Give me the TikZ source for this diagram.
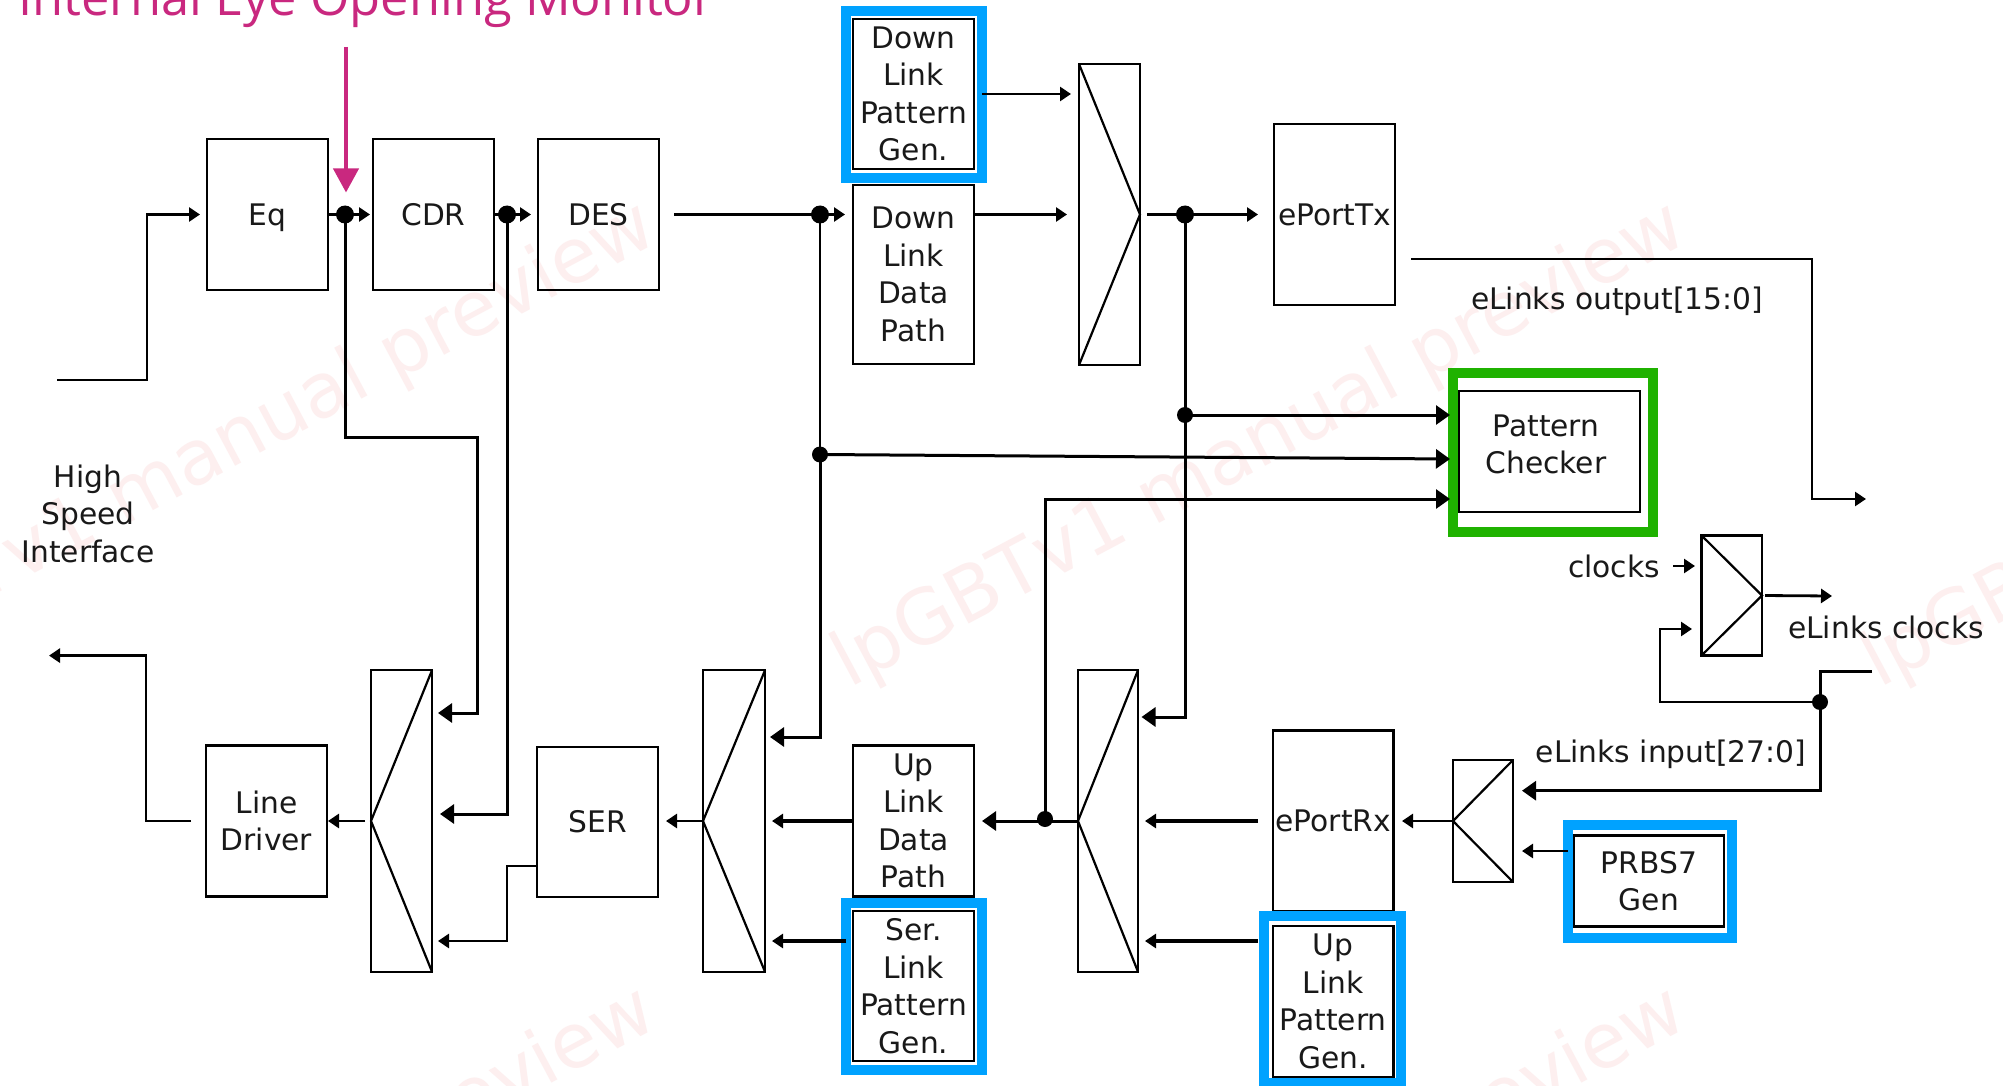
\documentclass[tikz,border=0pt]{standalone}
\usepackage{fontspec}
\setmainfont{DejaVu Sans}
\newfontfamily\titlefont{Open Sans}
\usetikzlibrary{arrows.meta}
\definecolor{wmpink}{HTML}{FDEFEF}
\definecolor{framesky}{HTML}{00A2FF}
\definecolor{framegreen}{HTML}{1FB200}
\definecolor{eyepink}{HTML}{C9287F}
\tikzset{
  x=1pt,y=-1pt,
  every node/.style={outer sep=0pt,inner sep=0pt},
  lbl/.style={font=\fontsize{29.7}{37.5}\selectfont,align=center,text=black!90},
  blockbox/.style={draw=black,line width=2.6pt,lbl},
  muxbox/.style={draw=black,line width=2.4pt},
  muxline/.style={draw=black,line width=2.2pt},
  frame/.style={draw=#1,line width=10pt},
  wire/.style={draw=black,line width=2.8pt},
  arr/.style={wire,-{Triangle[length=11pt,width=14pt]}},
  arrb/.style={wire,line width=3pt,-{Triangle[length=14pt,width=19pt]}},
  jdot/.style={circle,fill=black,minimum size=18pt},
  wmark/.style={font=\fontsize{76}{76}\selectfont,text=wmpink,rotate=28},
}
\begin{document}
\begin{tikzpicture}
\useasboundingbox (0,0) rectangle (2003,1086);
\fill[white] (0,0) rectangle (2003,1086);
\begin{scope}
\clip (0,0) rectangle (2003,1086);
\node[wmark] (wa) at (230,446) {lpGBTv1 manual preview};
\node[wmark] (wb) at (1260,446) {lpGBTv1 manual preview};
\node[wmark] (wc) at (2290,446) {lpGBTv1 manual preview};
\node[wmark] (wd) at (230,1231) {lpGBTv1 manual preview};
\node[wmark] (we) at (1260,1231) {lpGBTv1 manual preview};
\node[anchor=base west,text=eyepink,font=\titlefont\fontsize{50.6}{50.6}\selectfont] (title) at (18,15.5) {Internal Eye Opening Monitor};

% upper row
\node[blockbox,minimum width=121pt,minimum height=151pt] (eq) at (267.5,214.5) {\raisebox{0pt}[\height][0pt]{Eq}};
\node[blockbox,minimum width=121pt,minimum height=151pt] (cdr) at (433.5,214.5) {CDR};
\node[blockbox,minimum width=121pt,minimum height=151pt] (des) at (598.5,214.5) {DES};
\node[blockbox,minimum width=121pt,minimum height=150pt] (dpg) at (913.5,94) {Down\\Link\\Pattern\\Gen.};
\node[blockbox,minimum width=121pt,minimum height=179pt] (ddp) at (913.5,274.5) {Down\\Link\\Data\\Path};
\node[muxbox,minimum width=61pt,minimum height=301pt] (mux1) at (1109.5,214.5) {};
\node[blockbox,minimum width=121pt,minimum height=181pt] (eporttx) at (1334.5,214.5) {ePortTx};
\node[blockbox,minimum width=181pt,minimum height=121pt] (pc) at (1549.5,451.5) {};
\node[lbl] (pctext) at (1546,444.5) {Pattern\\Checker};
\node[muxbox,minimum width=60.5pt,minimum height=120pt] (clkmux) at (1731.75,595.5) {};

% lower row
\node[blockbox,minimum width=121pt,minimum height=150.5pt] (ld) at (266.5,821) {Line\\Driver};
\node[muxbox,minimum width=61pt,minimum height=301.5pt] (muxla) at (401.5,821) {};
\node[blockbox,minimum width=121pt,minimum height=150pt] (ser) at (597.5,822) {SER};
\node[muxbox,minimum width=62pt,minimum height=301.5pt] (muxlb) at (734,821) {};
\node[blockbox,minimum width=121pt,minimum height=150.5pt] (udp) at (913.5,821) {Up\\Link\\Data\\Path};
\node[blockbox,minimum width=121pt,minimum height=150pt] (spg) at (913.5,986) {Ser.\\Link\\Pattern\\Gen.};
\node[muxbox,minimum width=60pt,minimum height=301.5pt] (muxr) at (1108,821) {};
\node[blockbox,minimum width=120.5pt,minimum height=180.5pt] (eportrx) at (1333.25,821) {ePortRx};
\node[blockbox,minimum width=120.5pt,minimum height=151pt] (upg) at (1333.25,1001.5) {Up\\Link\\Pattern\\Gen.};
\node[muxbox,minimum width=60pt,minimum height=122pt] (smux) at (1483,821) {};
\node[blockbox,minimum width=150pt,minimum height=91pt] (prbs) at (1649,881) {PRBS7\\Gen};

% frames
\node[frame=framesky,minimum width=136pt,minimum height=167.5pt] (fa) at (914,94.75) {};
\node[frame=framesky,minimum width=136pt,minimum height=167.4pt] (fb) at (914,986.3) {};
\node[frame=framesky,minimum width=137pt,minimum height=167pt] (fc) at (1332.5,999.5) {};
\node[frame=framesky,minimum width=164.5pt,minimum height=113pt] (fd) at (1649.75,881.5) {};
\node[frame=framegreen,minimum width=200pt,minimum height=159pt] (fe) at (1553,452.5) {};

% labels
\node[lbl] (hsi) at (88,513.5) {High\\Speed\\Interface};
\node[lbl] (eout) at (1617,301) {eLinks output[15:0]};
\node[lbl] (clk) at (1614,566) {clocks};
\node[lbl] (eclk) at (1886,627) {eLinks clocks};
\node[lbl] (ein) at (1671,754) {eLinks input[27:0]};

% mux diagonals
\draw[muxline] (mux1.north west) -- (mux1.east) -- (mux1.south west);
\draw[muxline] (clkmux.north west) -- (clkmux.east) -- (clkmux.south west);
\draw[muxline] (muxla.north east) -- (muxla.west) -- (muxla.south east);
\draw[muxline] (muxlb.north east) -- (muxlb.west) -- (muxlb.south east);
\draw[muxline] (muxr.north east) -- (muxr.west) -- (muxr.south east);
\draw[muxline] (smux.north east) -- (smux.west) -- (smux.south east);

% junctions
\node[jdot] (ja) at (345,214.5) {};
\node[jdot] (jb) at (507,214.5) {};
\node[jdot] (jc) at (820,214.5) {};
\node[jdot] (jd) at (1185,214.5) {};
\node[jdot,minimum size=16pt] (je) at (1185,415) {};
\node[jdot,minimum size=16pt] (jf) at (820,454.5) {};
\node[jdot,minimum size=16pt] (jg) at (1045,819) {};
\node[jdot,minimum size=16pt] (jh) at (1820,702) {};

% coordinates
\coordinate (hsin) at (57,380);
\coordinate (hsbend) at (147,300);
\coordinate (lineout) at (49,655.6);
\coordinate (linebend) at (146,700);
\coordinate (eoutstart) at (1395,259);
\coordinate (eoutbend) at (1812,380);
\coordinate (eoutend) at (1866,499);
\coordinate (pca) at (1450,415);
\coordinate (pcb) at (1450,459);
\coordinate (pcc) at (1450,499);
\coordinate (mrtop) at (1141.5,717);
\coordinate (mlbtop) at (770,737);
\coordinate (jabend) at (477,437);
\coordinate (jatip) at (438,713);
\coordinate (jbtip) at (440,814);
\coordinate (serout) at (537,866);
\coordinate (serbend) at (507,900);
\coordinate (lowb) at (0,941);
\coordinate (eintop) at (1872,671);
\coordinate (eintip) at (1522,790.7);
\coordinate (prbstip) at (1522,851);
\coordinate (clkbend) at (1660,670);
\coordinate (clktip) at (1692,629);
\coordinate (clkintip) at (1695,566);
\coordinate (clkinstart) at (1673,566);
\coordinate (clkoutend) at (1832,596);

% connectors, top
\draw[arr] (hsin) -| (hsbend) |- ([xshift=-7pt]eq.west);
\draw[arr,shorten >=3pt] (eq.east) -- (cdr.west);
\draw[arr,shorten >=7pt] (cdr.east) -- (des.west);
\draw[arr,shorten <=15pt,shorten >=8pt] (des.east) -- (ddp.west |- des.east);
\draw[arr,shorten >=8pt] (fa.east |- dpg.east) -- (mux1.west |- dpg.east);
\draw[arr,shorten >=12pt] (ddp.east |- mux1.west) -- (mux1.west);
\draw[arr,shorten <=7pt,shorten >=16pt] (mux1.east) -- (eporttx.west);
\draw[arr,shorten <=16pt] (eoutstart) -| (eoutbend) |- (eoutend);
% tap to lower mux and to the checker
\draw[arrb] (jd.center) |- (mrtop);
\draw[arrb] (je.center) -- (pca);
\draw[arrb] (jf.center) -- (pcb);
\draw[arrb] (jg.center) |- (pcc);
\draw[wire] (jc.center) -- (jf.center);
\draw[arrb] (jf.center) |- (mlbtop);
\draw[arrb] (ja.center) |- (jabend) |- (jatip);
\draw[arrb] (jb.center) |- (jbtip);
\draw[arr] (serout) -| (serbend) |- (jatip |- lowb);

% connectors, bottom
\draw[arr,shorten >=8pt] (muxlb.west) -- (ser.east |- muxlb.west);
\draw[arr,shorten <=6pt,shorten >=1pt] (muxla.west) -- (ld.east);
\draw[arr,shorten <=15pt] (ld.west) -| (linebend) |- (lineout);
\draw[arr,line width=3.2pt,shorten >=7pt] (udp.west) -- (muxlb.east);
\draw[arr,line width=3.2pt,shorten >=7pt] (fb.west |- lowb) -- (muxlb.east |- lowb);
\draw[arrb,shorten >=8pt] (muxr.west) -- (udp.east);
\draw[arr,line width=3.2pt,shorten <=15pt,shorten >=7pt] (eportrx.west) -- (muxr.east);
\draw[arr,line width=3.2pt,shorten <=15pt,shorten >=7pt] (upg.west |- lowb) -- (muxr.east |- lowb);
\draw[arr,shorten >=8.5pt] (smux.west) -- (eportrx.east);
\draw[arr,shorten >=0pt] (fd.west |- prbstip) -- (prbstip);
\draw[arrb] (eintop) -| (jh.center) |- (eintip);
\draw[arr] (jh.center) -| (clkbend) |- (clktip);
\draw[arr] (clkinstart) -- (clkintip);
\draw[arr,shorten <=3pt] (clkmux.east) -- (clkoutend);

% monitor pointer
\coordinate (eyestart) at (346,47);
\draw[draw=eyepink,line width=4pt,-{Triangle[length=24pt,width=25pt,color=eyepink]},shorten >=22pt] (eyestart) -- (eyestart |- ja);
\end{scope}
\end{tikzpicture}
\end{document}
